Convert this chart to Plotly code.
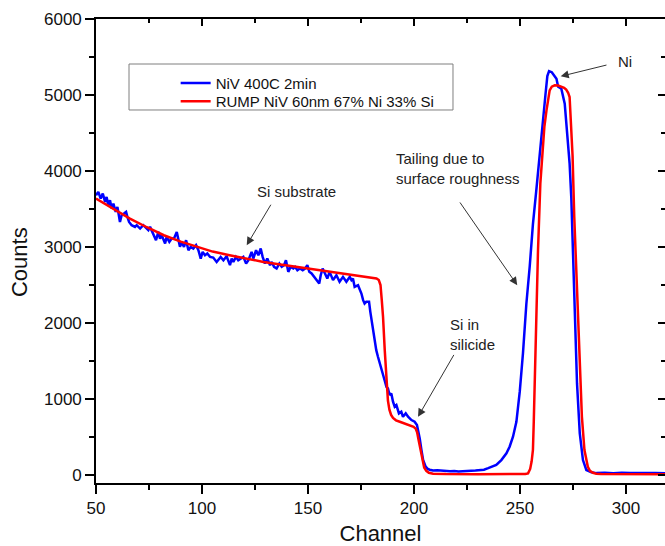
import plotly.graph_objects as go

# ---------------- data ----------------
blue_ch = [50.0, 51.1, 52.2, 53.2, 54.3, 55.0, 55.8, 56.6, 57.4, 58.2, 59.3, 60.1, 61.3, 62.1, 63.2,
           64.2, 64.8, 65.6, 66.8, 68.4, 69.2, 70.8, 72.3, 73.6, 74.7, 75.5, 77.1, 78.3, 79.4, 80.2,
           81.0, 82.6, 83.3, 84.6, 85.7, 86.8, 88.1, 88.8, 89.6, 90.4, 91.5, 92.5, 93.6, 94.7, 95.9,
           97.2, 98.3, 99.4, 100.3, 101.4, 102.5, 103.8, 105.3, 106.9, 107.7, 108.8, 110.1, 111.6,
           113.2, 114.0, 114.8, 116.0, 117.1, 118.2, 119.5, 120.8, 121.9, 123.4, 124.2, 125.5, 126.6,
           127.7, 128.6, 129.7, 130.8, 132.1, 132.9, 134.0, 135.2, 136.5, 137.6, 138.7, 139.6, 140.7,
           141.8, 143.1, 143.9, 145.0, 146.2, 147.5, 148.6, 149.7, 150.6, 151.7, 152.8, 154.1, 155.3,
           156.0, 156.9, 158.0, 159.1, 160.2, 161.8, 163.4, 164.9, 166.5, 168.1, 169.7, 170.5, 171.2,
           172.0, 173.6, 174.4, 175.2, 176.0, 176.7, 177.5, 178.8, 179.4, 180.4, 181.5, 182.2, 183.0,
           183.8, 184.6, 185.4, 186.2, 187.0, 187.7, 188.5, 189.3, 190.1, 190.9, 191.7, 192.9, 194.0,
           194.8, 196.1, 197.2, 198.8, 200.3, 201.4, 202.1, 202.7, 203.5, 204.3, 205.5, 206.5, 207.4,
           209.0, 211.0, 213.0, 215.0, 217.0, 219.0, 221.0, 223.0, 225.0, 227.0, 229.0, 231.0, 233.0,
           235.0, 236.5, 238.8, 241.2, 243.6, 245.1, 246.7, 248.3, 249.9, 251.4, 253.0, 254.6, 256.1,
           257.7, 259.3, 260.8, 262.0, 262.9, 263.7, 265.0, 265.6, 267.2, 268.0, 269.5, 271.1, 272.4,
           273.4, 274.2, 275.0, 275.8, 276.9, 278.2, 279.7, 281.3, 283.7, 286.0, 290.0, 294.0, 298.0,
           302.0, 306.0, 310.0, 314.0, 318.4]
blue_counts = [3680, 3725, 3637, 3703, 3593, 3659, 3549, 3615, 3506, 3571, 3462, 3528, 3330, 3418, 3440,
               3462, 3396, 3330, 3287, 3265, 3287, 3243, 3287, 3243, 3221, 3265, 3177, 3089, 3199, 3111,
               3155, 3046, 3133, 3067, 3111, 3111, 3199, 3111, 3002, 3067, 3002, 3089, 2958, 3002, 2980,
               3024, 2958, 2848, 2936, 2892, 2914, 2870, 2861, 2804, 2826, 2870, 2826, 2879,
               2761, 2848, 2804, 2870, 2826, 2848, 2870, 2783, 2826, 2936, 2848, 2958, 2892,
               2980, 2870, 2783, 2848, 2761, 2804, 2739, 2717, 2783, 2739, 2761, 2826, 2673,
               2739, 2717, 2739, 2695, 2717, 2695, 2717, 2761, 2673, 2651, 2607, 2564, 2520,
               2629, 2717, 2651, 2585, 2673, 2564, 2629, 2542, 2607, 2542, 2607, 2564, 2585,
               2476, 2498, 2454, 2388, 2301, 2257, 2279, 2279, 2147, 1950, 1775, 1643, 1556,
               1468, 1380, 1293, 1240, 1161, 1139, 1052, 1074, 964, 898, 920, 811, 833,
               767, 811, 767, 723, 701, 657, 580, 480, 330, 197, 110, 80, 70,
               60, 62, 55, 50, 48, 52, 45, 50, 48, 55, 58, 60, 70,
               90, 105, 132, 197, 285, 373, 504, 700, 1100, 1600, 2250, 2750, 3300,
               3750, 4250, 4650, 5000, 5250, 5315, 5300, 5280, 5215, 5110, 5083, 4886, 4492,
               4100, 3650, 2958, 2081, 1205, 548, 197, 66, 35, 25, 30, 22, 30,
               25, 28, 22, 26, 24]

red_ch = [50, 58, 66, 74, 82, 90, 97.5, 105, 113, 121, 129, 137, 145, 152, 160, 168, 176, 180,
          182.3, 183.4, 184.2, 184.8, 185.4, 186.2, 187.0, 187.7, 188.4, 189.2, 190.1, 191.5, 193.3,
          196.0, 198.0, 199.8, 200.8, 201.5, 202.1, 203.0, 204.0, 204.8, 205.8, 207.0, 209.0, 215.0,
          230.0, 245.0, 252.5, 253.8, 254.8, 255.5, 256.1, 256.5, 256.9, 257.7, 258.5, 259.6, 260.6,
          261.5, 262.5, 263.3, 264.0, 265.0, 266.4, 268.0, 269.5, 270.8, 271.8, 272.7, 273.4, 274.2,
          274.8, 275.6, 276.8, 278.0, 279.2, 280.4, 281.2, 282.0, 283.0, 284.4, 286.0, 288.3, 318.4]
red_counts = [3637, 3500, 3374, 3260, 3155, 3070, 3001, 2940, 2892, 2845, 2804, 2770, 2738, 2705,
              2673, 2640, 2607, 2595, 2585, 2565, 2500, 2300, 2081, 1643, 1205, 980, 860, 790, 750,
              720, 701, 675, 657, 635, 610, 560, 470, 329, 170, 100, 55, 30, 18, 12,
              10, 10, 13, 22, 80, 180, 329, 700, 1209, 2081, 2958, 3838, 4272,
              4580, 4798, 4960, 5061, 5110, 5127, 5125, 5114, 5095, 5070, 5030, 4973, 4500,
              4200, 3396, 2520, 1643, 766, 329, 190, 109, 55, 30, 18, 13, 10]

series_names = ["NiV 400C 2min", "RUMP NiV 60nm 67% Ni 33% Si"]
x_range = [50, 318.4]
y_range = [-105, 6000]

FONT = "Liberation Sans, Arial, sans-serif"

fig = go.Figure()
fig.add_trace(go.Scatter(x=blue_ch, y=blue_counts, mode="lines", name=series_names[0],
                         line=dict(color="#0000FF", width=2.5), legend="legend"))
fig.add_trace(go.Scatter(x=red_ch, y=red_counts, mode="lines", name=series_names[1],
                         line=dict(color="#FF0000", width=2.5), legend="legend2"))
# empty trace so the mirrored (top / right) frame axes are drawn
fig.add_trace(go.Scatter(x=[], y=[], xaxis="x2", yaxis="y2", showlegend=False,
                         hoverinfo="skip"))

axis_common = dict(showgrid=False, zeroline=False, linecolor="#000000", linewidth=1.6,
                   tickcolor="#000000", tickwidth=1.5)
leg_font = dict(size=15, family=FONT, color="#111111")

fig.update_layout(
    width=665, height=546,
    margin=dict(l=96, r=0, t=19, b=63),
    paper_bgcolor="white", plot_bgcolor="white",
    font=dict(family=FONT, color="#111111"),
    showlegend=True,
    legend=dict(x=0.14, xanchor="left", y=0.8972, yanchor="top",
                bgcolor="rgba(0,0,0,0)", borderwidth=0, font=leg_font),
    legend2=dict(x=0.14, xanchor="left", y=0.8578, yanchor="top",
                 bgcolor="rgba(0,0,0,0)", borderwidth=0, font=leg_font),
    xaxis=dict(range=x_range, tickmode="linear", tick0=50, dtick=50,
               ticks="outside", ticklen=9, showline=True,
               minor=dict(ticks="outside", ticklen=5, dtick=25, tick0=50,
                          tickcolor="#000000", tickwidth=1.5),
               tickfont=dict(size=17, family=FONT, color="#111111"),
               title=dict(text="Channel", font=dict(size=22, family=FONT, color="#111111"),
                          standoff=10),
               **axis_common),
    yaxis=dict(range=y_range, tickmode="linear", tick0=0, dtick=1000,
               ticks="outside", ticklen=9, showline=True,
               minor=dict(ticks="outside", ticklen=5, dtick=500, tick0=0,
                          tickcolor="#000000", tickwidth=1.5),
               tickfont=dict(size=17, family=FONT, color="#111111"),
               **axis_common),
    xaxis2=dict(range=x_range, overlaying="x", side="top", anchor="y2",
                tickmode="linear", tick0=50, dtick=50, ticks="inside", ticklen=7,
                showticklabels=False, showline=True,
                minor=dict(ticks="inside", ticklen=4, dtick=25, tick0=50,
                           tickcolor="#000000", tickwidth=1.5),
                **axis_common),
    yaxis2=dict(range=y_range, overlaying="y", side="right", anchor="x2",
                tickmode="linear", tick0=0, dtick=1000, ticks="inside", ticklen=7,
                showticklabels=False, showline=False,
                minor=dict(ticks="inside", ticklen=4, dtick=500, tick0=0,
                           tickcolor="#000000", tickwidth=1.5),
                **axis_common),
)

# legend frame
fig.add_shape(type="rect", xref="paper", yref="paper", x0=0.058, x1=0.6274, y0=0.8039, y1=0.903,
              line=dict(color="#7f7f7f", width=1), fillcolor="rgba(0,0,0,0)", layer="below")

# y-axis title
fig.add_annotation(text="Counts", xref="paper", yref="paper", x=-0.1344, y=0.4752,
                   textangle=-90, showarrow=False, xanchor="center", yanchor="middle",
                   font=dict(size=22, family=FONT, color="#111111"))

ann_font = dict(size=15, family=FONT, color="#222222")
# text labels
labels = [
    ("Si substrate", 144.7, 3733, "center"),
    ("Tailing due to<br>surface roughness", 190.8, 4027, "left"),
    ("Ni", 295.1, 5442, "left"),
    ("Si in<br>silicide", 216.0, 1853, "left"),
]
for txt, lx, ly, anc in labels:
    fig.add_annotation(text=txt, x=lx, y=ly, xref="x", yref="y", showarrow=False,
                       xanchor=anc, yanchor="middle", align="left", font=ann_font)

# arrows: (tip channel, tip counts, tail channel, tail counts)
arrows = [
    (121.1, 3024, 132.9, 3576),
    (248.7, 2498, 221.2, 3606),
    (269.2, 5246, 291.5, 5399),
    (201.9, 766, 219.2, 1600),
]
for tx, ty, sx, sy in arrows:
    fig.add_annotation(text="", x=tx, y=ty, ax=sx, ay=sy, xref="x", yref="y",
                       axref="x", ayref="y", showarrow=True, arrowhead=2,
                       arrowsize=1.6, arrowwidth=1, arrowcolor="#333333")

fig.write_html("out.html")
